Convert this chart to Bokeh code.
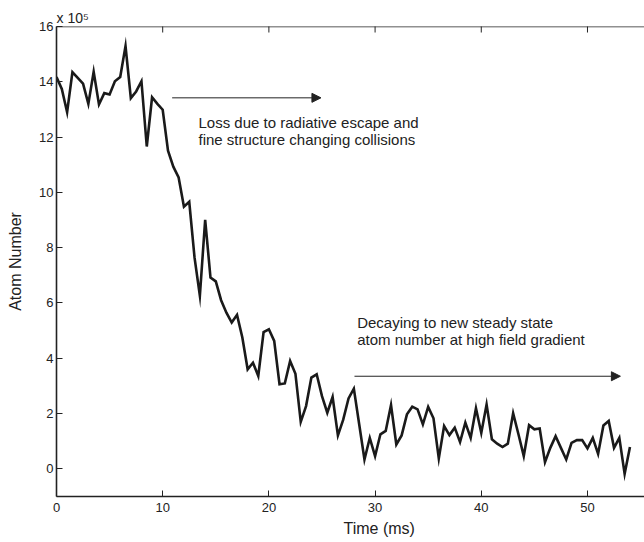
import math
from bokeh.plotting import figure
from bokeh.models import (Range1d, LinearAxis, FixedTicker, Label, Arrow, NormalHead, Span,
                          Title)
from bokeh.embed import file_html
from bokeh.resources import INLINE

# Time (ms)
time_ms = [0.0, 0.5, 1.0, 1.5, 2.0, 2.5, 3.0, 3.5, 4.0, 4.5, 5.0, 5.5, 6.0, 6.5, 7.0, 7.5,
           8.0, 8.5, 9.0, 9.5, 10.0, 10.5, 11.0, 11.5, 12.0, 12.5, 13.0, 13.5, 14.0, 14.5,
           15.0, 15.5, 16.0, 16.5, 17.0, 17.5, 18.0, 18.5, 19.0, 19.5, 20.0, 20.5, 21.0,
           21.5, 22.0, 22.5, 23.0, 23.5, 24.0, 24.5, 25.0, 25.5, 26.0, 26.5, 27.0, 27.5,
           28.0, 28.5, 29.0, 29.5, 30.0, 30.5, 31.0, 31.5, 32.0, 32.5, 33.0, 33.5, 34.0,
           34.5, 35.0, 35.5, 36.0, 36.5, 37.0, 37.5, 38.0, 38.5, 39.0, 39.5, 40.0, 40.5,
           41.0, 41.5, 42.0, 42.5, 43.0, 43.5, 44.0, 44.5, 45.0, 45.5, 46.0, 46.5, 47.0,
           47.5, 48.0, 48.5, 49.0, 49.5, 50.0, 50.5, 51.0, 51.5, 52.0, 52.5, 53.0, 53.5, 54.0]

# Atom number (x 10^5)
atom_number = [14.17, 13.74, 12.90, 14.35, 14.14, 13.93, 13.20, 14.36, 13.18, 13.59, 13.54,
               14.02, 14.17, 15.29, 13.41, 13.65, 14.02, 11.66, 13.44, 13.20, 12.99, 11.51,
               10.93, 10.54, 9.48, 9.66, 7.64, 6.26, 9.01, 6.92, 6.78, 6.10, 5.65, 5.29, 5.57,
               4.75, 3.60, 3.84, 3.36, 4.95, 5.05, 4.63, 3.06, 3.09, 3.90, 3.44, 1.70, 2.27,
               3.30, 3.42, 2.63, 2.03, 2.60, 1.21, 1.78, 2.55, 2.90, 1.62, 0.34, 1.12, 0.46,
               1.25, 1.37, 2.31, 0.88, 1.21, 1.97, 2.25, 2.15, 1.61, 2.24, 1.83, 0.38, 1.55,
               1.22, 1.49, 0.97, 1.67, 1.12, 2.19, 1.30, 2.33, 1.07, 0.91, 0.79, 0.91, 2.01,
               1.25, 0.46, 1.58, 1.43, 1.46, 0.24, 0.76, 1.18, 0.76, 0.34, 0.94, 1.04, 1.04,
               0.74, 1.12, 0.54, 1.57, 1.73, 0.76, 1.12, -0.18, 0.79]

x_ticks = [0, 10, 20, 30, 40, 50]
y_ticks = [0, 2, 4, 6, 8, 10, 12, 14, 16]
y_top = 16

annotation_1 = ["Loss due to radiative escape and", "fine structure changing collisions"]
annotation_2 = ["Decaying to new steady state", "atom number at high field gradient"]

FONT = "Liberation Sans"
INK = "#222222"

p = figure(width=644, height=542, output_backend="svg", toolbar_location=None,
           x_range=Range1d(0, 55.37), y_range=Range1d(-1, y_top),
           x_axis_location=None, y_axis_location=None,
           min_border_left=56, min_border_right=0, min_border_top=26, min_border_bottom=46)
p.grid.visible = False
p.outline_line_color = None
p.background_fill_color = "white"
p.border_fill_color = "white"

xb = LinearAxis(ticker=FixedTicker(ticks=x_ticks))
yl = LinearAxis(ticker=FixedTicker(ticks=y_ticks), axis_label="Atom Number")
for ax, so in [(xb, 6), (yl, 3)]:
    ax.axis_line_color = INK
    ax.axis_line_width = 1.6
    ax.major_tick_line_color = INK
    ax.major_tick_line_width = 1
    ax.major_tick_in = 6
    ax.major_tick_out = 0
    ax.minor_tick_line_color = None
    ax.major_label_text_font = FONT
    ax.major_label_text_font_size = "13px"
    ax.major_label_text_color = INK
    ax.major_label_standoff = so
yl.axis_label_text_font = FONT
yl.axis_label_text_font_size = "16px"
yl.axis_label_text_font_style = "normal"
yl.axis_label_text_color = INK
yl.axis_label_standoff = 12
p.add_layout(xb, "below")
p.add_layout(yl, "left")

# x-axis title (offset to the right, as in the source figure)
p.add_layout(Title(text="Time (ms)", align="left", offset=287, standoff=6,
                   text_font=FONT, text_font_size="16px", text_font_style="normal",
                   text_color=INK), "below")
# exponent marker above the y axis
p.add_layout(Title(text="x 10\u2075", align="left", offset=0, standoff=2,
                   text_font=FONT, text_font_size="14px", text_font_style="normal",
                   text_color=INK), "above")

# top frame line with inward ticks
p.add_layout(Span(location=y_top, dimension="width", line_color=INK, line_width=1.6))
p.scatter(x_ticks, [y_top] * len(x_ticks), marker="dash", angle=math.pi / 2, size=12,
          line_color=INK, line_width=1)

p.line(time_ms, atom_number, line_color="#1a1a1a", line_width=2.6, line_join="miter")

# annotation arrows
p.add_layout(Arrow(x_start=10.89, y_start=13.42, x_end=24.9, y_end=13.42,
                   line_color=INK, line_width=1,
                   end=NormalHead(size=9, fill_color=INK, line_color=INK)))
p.add_layout(Arrow(x_start=28.06, y_start=3.35, x_end=53.1, y_end=3.35,
                   line_color=INK, line_width=1,
                   end=NormalHead(size=9, fill_color=INK, line_color=INK)))

def add_text(x, y, txt, size="15px", **kw):
    p.add_layout(Label(x=x, y=y, text=txt, text_font=FONT, text_font_size=size,
                       text_color=INK, **kw))

add_text(13.37, 12.21, annotation_1[0])
add_text(13.37, 11.61, annotation_1[1])
add_text(28.31, 5.00, annotation_2[0])
add_text(28.31, 4.36, annotation_2[1])

open("out.html", "w").write(file_html(p, INLINE))
